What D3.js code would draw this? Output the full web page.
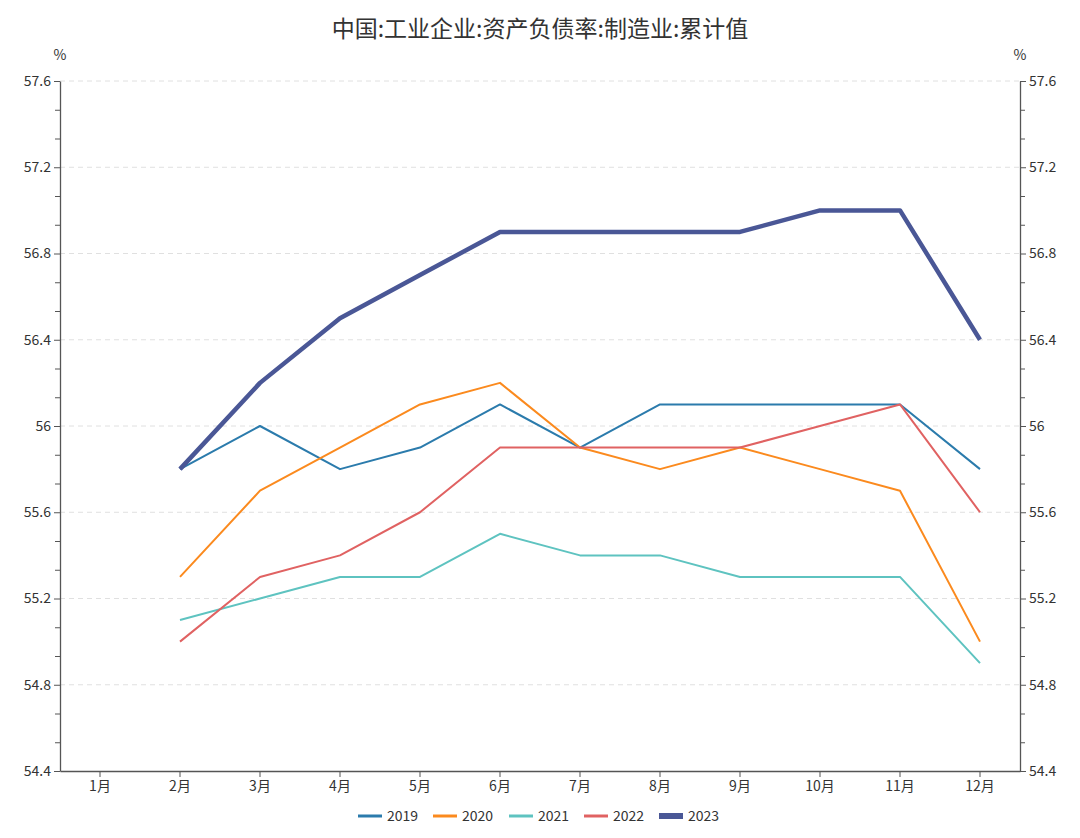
<!DOCTYPE html>
<html>
<head>
<meta charset="utf-8">
<script src="https://cdn.jsdelivr.net/npm/d3@7"></script>
<style>
  body { margin: 0; background: #fff; }
  text { font-family: "Noto Sans CJK SC", "Noto Sans", sans-serif; }
</style>
</head>
<body>
<script>
// chart data
const months = ["1月", "2月", "3月", "4月", "5月", "6月", "7月", "8月", "9月", "10月", "11月", "12月"];
const years = ["2019", "2020", "2021", "2022", "2023"];
const v2019 = [null, 55.8, 56.0, 55.8, 55.9, 56.1, 55.9, 56.1, 56.1, 56.1, 56.1, 55.8];
const v2020 = [null, 55.3, 55.7, 55.9, 56.1, 56.2, 55.9, 55.8, 55.9, 55.8, 55.7, 55.0];
const v2021 = [null, 55.1, 55.2, 55.3, 55.3, 55.5, 55.4, 55.4, 55.3, 55.3, 55.3, 54.9];
const v2022 = [null, 55.0, 55.3, 55.4, 55.6, 55.9, 55.9, 55.9, 55.9, 56.0, 56.1, 55.6];
const v2023 = [null, 55.8, 56.2, 56.5, 56.7, 56.9, 56.9, 56.9, 56.9, 57.0, 57.0, 56.4];
const yTicks = [54.4, 54.8, 55.2, 55.6, 56, 56.4, 56.8, 57.2, 57.6];

const seriesValues = [v2019, v2020, v2021, v2022, v2023];
const colors = ["#2b7bac", "#fb8a1e", "#5ec3c0", "#e06262", "#4a5796"];
const widths = [2, 2, 2, 2, 4.5];

const width = 1080, height = 838;
const margin = { top: 81, right: 60, bottom: 67, left: 60 };

const svg = d3.select("body").append("svg")
  .attr("width", width)
  .attr("height", height);

const x = d3.scaleBand()
  .domain(months)
  .range([margin.left, width - margin.right]);

const y = d3.scaleLinear()
  .domain([54.4, 57.6])
  .range([height - margin.bottom, margin.top]);

// title
svg.append("text")
  .attr("x", width / 2)
  .attr("y", 37)
  .attr("text-anchor", "middle")
  .attr("font-size", 23)
  .attr("fill", "#333")
  .text("中国:工业企业:资产负债率:制造业:累计值");

// grid lines
svg.append("g")
  .selectAll("line")
  .data(yTicks.slice(1))
  .enter().append("line")
    .attr("x1", margin.left)
    .attr("x2", width - margin.right)
    .attr("y1", d => y(d))
    .attr("y2", d => y(d))
    .attr("stroke", "#e0e0e0")
    .attr("stroke-dasharray", "5,4");

// minor ticks: each 0.4 step split in three
const minorTicks = [];
for (let i = 0; i < yTicks.length - 1; i++) {
  const step = (yTicks[i + 1] - yTicks[i]) / 3;
  minorTicks.push(yTicks[i] + step, yTicks[i] + 2 * step);
}

function styleAxis(g) {
  g.select(".domain").attr("stroke", "#555").attr("stroke-width", 1.3);
  g.selectAll(".tick line").attr("stroke", "#555");
  g.selectAll(".tick text").attr("fill", "#333").attr("font-size", 14)
    .attr("font-family", "'Noto Sans CJK SC', 'Noto Sans', sans-serif");
}

const yFmt = d => d3.format("")(+d.toFixed(1));

const leftAxis = svg.append("g")
  .attr("transform", `translate(${margin.left},0)`)
  .call(d3.axisLeft(y).tickValues(yTicks).tickFormat(yFmt).tickSizeOuter(0).tickPadding(3));
styleAxis(leftAxis);
svg.append("g")
  .attr("transform", `translate(${margin.left},0)`)
  .call(d3.axisLeft(y).tickValues(minorTicks).tickFormat("").tickSizeOuter(0).tickSize(5))
  .call(g => g.select(".domain").remove())
  .selectAll("line").attr("stroke", "#555");

const rightAxis = svg.append("g")
  .attr("transform", `translate(${width - margin.right},0)`)
  .call(d3.axisRight(y).tickValues(yTicks).tickFormat(yFmt).tickSizeOuter(0).tickPadding(3));
styleAxis(rightAxis);
svg.append("g")
  .attr("transform", `translate(${width - margin.right},0)`)
  .call(d3.axisRight(y).tickValues(minorTicks).tickFormat("").tickSizeOuter(0).tickSize(5))
  .call(g => g.select(".domain").remove())
  .selectAll("line").attr("stroke", "#555");

// unit labels
svg.append("text").attr("x", margin.left).attr("y", 60)
  .attr("text-anchor", "middle").attr("font-size", 14).attr("fill", "#333").text("%");
svg.append("text").attr("x", width - margin.right).attr("y", 60)
  .attr("text-anchor", "middle").attr("font-size", 14).attr("fill", "#333").text("%");

// x axis
const xAxis = svg.append("g")
  .attr("transform", `translate(0,${height - margin.bottom})`)
  .call(d3.axisBottom(x).tickSizeOuter(0).tickPadding(4));
styleAxis(xAxis);

// lines
const line = d3.line()
  .defined(d => d.v !== null)
  .x(d => x(d.m) + x.bandwidth() / 2)
  .y(d => y(d.v));

years.forEach((yr, i) => {
  const pts = months.map((m, j) => ({ m: m, v: seriesValues[i][j] }));
  svg.append("path")
    .datum(pts)
    .attr("fill", "none")
    .attr("stroke", colors[i])
    .attr("stroke-width", widths[i])
    .attr("stroke-linejoin", "round")
    .attr("d", line);
});

// legend
const legendX = [358, 433, 509, 584, 659];
const legend = svg.append("g");
years.forEach((yr, i) => {
  const g = legend.append("g").attr("transform", `translate(${legendX[i]},816)`);
  g.append("line")
    .attr("x1", 0).attr("x2", 24)
    .attr("stroke", colors[i])
    .attr("stroke-width", i === 4 ? 6 : 3);
  g.append("text")
    .attr("x", 29).attr("y", 5)
    .attr("font-size", 14).attr("fill", "#333")
    .text(yr);
});
</script>
</body>
</html>
